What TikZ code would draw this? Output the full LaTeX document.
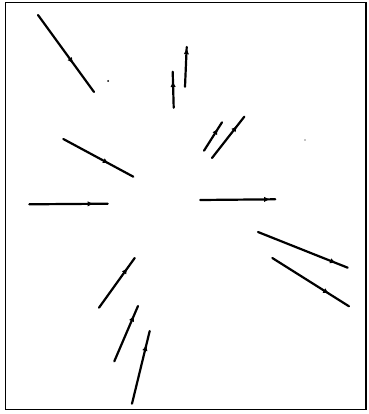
\documentclass[tikz,border=0pt]{standalone}
\usetikzlibrary{decorations.markings,arrows.meta}
\tikzset{
  vecline/.style={line width=2.2pt, line cap=round, postaction={decorate},
    decoration={markings, mark=at position #1 with {\arrow{Latex[length=6pt,width=5.5pt]}}}},
  frame/.style={line width=1.8pt},
  speck/.style={fill=black}
}
\begin{document}
\begin{tikzpicture}[x=1pt,y=-1pt]
\useasboundingbox (0,0) rectangle (368,414);
\draw[frame] (5.5,2.5) rectangle (366,409.5);
% vectors
\coordinate (a1) at (38,15);   \coordinate (b1) at (94,92);
\coordinate (a2) at (173.7,107.7); \coordinate (b2) at (172.7,71.7);
\coordinate (a3) at (185,86.7); \coordinate (b3) at (186.7,47);
\coordinate (a4) at (63.3,139); \coordinate (b4) at (133.3,176.7);
\coordinate (a5) at (29.3,204.3); \coordinate (b5) at (107.7,203.7);
\coordinate (a6) at (204,150.7); \coordinate (b6) at (222,122.3);
\coordinate (a7) at (212,158); \coordinate (b7) at (244.3,116.7);
\coordinate (a8) at (200.3,200); \coordinate (b8) at (275.3,199.3);
\coordinate (a9) at (99,307.7); \coordinate (b9) at (134.7,258);
\coordinate (a10) at (114.3,361.3); \coordinate (b10) at (138,306);
\coordinate (a11) at (132,403.7); \coordinate (b11) at (149.7,331);
\coordinate (a12) at (258,232); \coordinate (b12) at (347.7,267.7);
\coordinate (a13) at (272.3,258); \coordinate (b13) at (349,306.3);
\draw[vecline=0.63] (a1) -- (b1);
\draw[vecline=0.74] (a2) -- (b2);
\draw[vecline=0.97] (a3) -- (b3);
\draw[vecline=0.65] (a4) -- (b4);
\draw[vecline=0.82] (a5) -- (b5);
\draw[vecline=0.78] (a6) -- (b6);
\draw[vecline=0.78] (a7) -- (b7);
\draw[vecline=0.93] (a8) -- (b8);
\draw[vecline=0.80] (a9) -- (b9);
\draw[vecline=0.83] (a10) -- (b10);
\draw[vecline=0.81] (a11) -- (b11);
\draw[vecline=0.87] (a12) -- (b12);
\draw[vecline=0.74] (a13) -- (b13);
% specks
\fill[speck] (108,81) circle (1);
\fill[speck] (305,140) circle (0.6);
\end{tikzpicture}
\end{document}
